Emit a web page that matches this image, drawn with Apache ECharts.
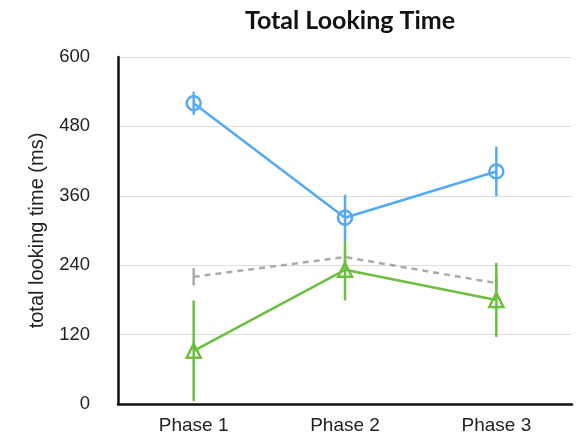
<!DOCTYPE html>
<html><head><meta charset="utf-8">
<script src="https://cdn.jsdelivr.net/npm/echarts@6/dist/echarts.min.js"></script>
<style>html,body{margin:0;padding:0;background:#fff}#c{width:580px;height:437px}</style>
</head><body><div id="c"></div>
<script>
var categories = ['Phase 1', 'Phase 2', 'Phase 3'];
var yTicks = [0, 120, 240, 360, 480, 600];
var blueMean = [520, 322, 402];
var blueErr = [20, 40, 43];
var greenMean = [92, 232, 180];
var greenErr = [87, 53, 64];
var grayMean = [220, 254, 209];
var grayErr = [15, 12, 12];

var BLUE = '#55aaf5', GREEN = '#6cbf3f', GRAY = '#aaaaaa';

function errData(mean, err) {
  return mean.map(function (m, i) { return [i, m - err[i], m + err[i]]; });
}
function errSeries(mean, err, color, z) {
  return {
    type: 'custom', z: z, silent: true,
    data: errData(mean, err),
    encode: { x: 0, y: [1, 2] },
    renderItem: function (params, api) {
      var lo = api.coord([api.value(0), api.value(1)]);
      var hi = api.coord([api.value(0), api.value(2)]);
      return { type: 'line', shape: { x1: lo[0], y1: lo[1], x2: hi[0], y2: hi[1] },
        style: { stroke: color, lineWidth: 2.5 } };
    }
  };
}
function lineSeries(mean, color, symbol, dashed, z) {
  return {
    type: 'line', z: z, data: mean, symbol: symbol, symbolSize: 14,
    showSymbol: symbol !== 'none',
    lineStyle: { color: color, width: 2.5, type: dashed ? [6, 5] : 'solid' },
    itemStyle: { color: 'rgba(255,255,255,0)', borderColor: color, borderWidth: 2.5 },
    emphasis: { disabled: true }, animation: false
  };
}

var chart = echarts.init(document.getElementById('c'));
chart.setOption({
  animation: false,
  title: { text: 'Total Looking Time', left: 345, textAlign: 'center', top: 3,
    textStyle: { fontFamily: 'Lato', fontWeight: 'bold', fontSize: 25, color: '#111' } },
  grid: { left: 118, right: 8, top: 57, bottom: 33 },
  xAxis: {
    type: 'category', data: categories,
    axisLine: { lineStyle: { color: '#111', width: 2.5 } },
    axisTick: { show: false },
    axisLabel: { color: '#222', fontFamily: 'Liberation Sans', fontSize: 19, margin: 12 }
  },
  yAxis: {
    type: 'value', min: 0, max: 600, interval: 120,
    name: 'total looking time (ms)', nameLocation: 'middle', nameGap: 71,
    nameTextStyle: { color: '#222', fontFamily: 'Liberation Sans', fontSize: 20 },
    axisLine: { show: true, lineStyle: { color: '#111', width: 2.5 } },
    axisTick: { show: false },
    axisLabel: { color: '#222', fontFamily: 'Liberation Sans', fontSize: 18.5, margin: 28,
      formatter: function (v) { return yTicks.indexOf(v) >= 0 ? String(v) : ''; } },
    splitLine: { lineStyle: { color: '#dddddd', width: 1 } }
  },
  series: [
    lineSeries(grayMean, GRAY, 'none', true, 2),
    errSeries(grayMean, grayErr, GRAY, 3),
    lineSeries(greenMean, GREEN, 'triangle', false, 4),
    errSeries(greenMean, greenErr, GREEN, 5),
    lineSeries(blueMean, BLUE, 'circle', false, 6),
    errSeries(blueMean, blueErr, BLUE, 7)
  ]
});
</script></body></html>
